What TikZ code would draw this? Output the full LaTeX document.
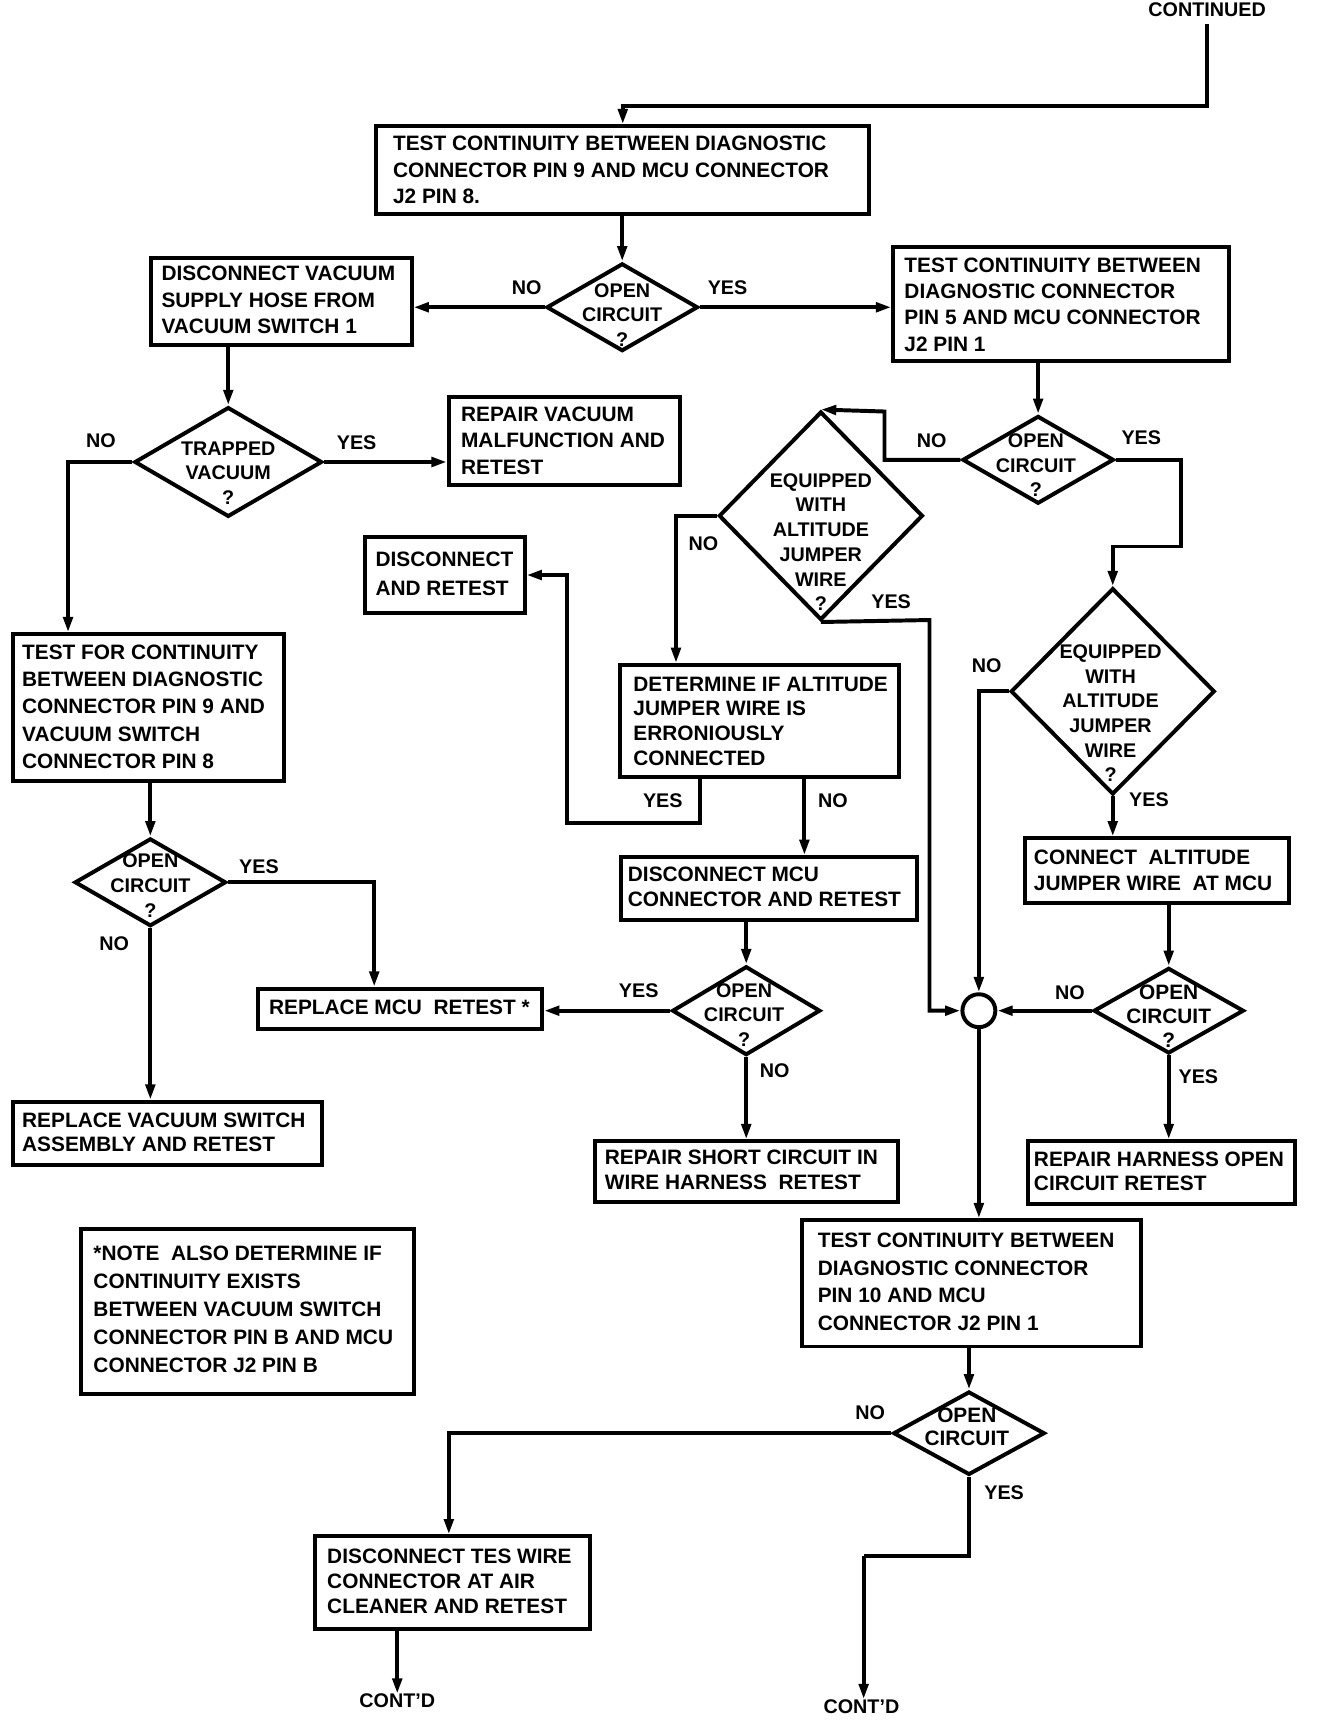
\documentclass[tikz,border=0pt]{standalone}
\usepackage{fontspec}
\setmainfont{Liberation Sans}
\usetikzlibrary{arrows.meta,shapes.geometric}
\begin{document}
\begin{tikzpicture}[x=1pt,y=-1pt]
\tikzset{
 ln/.style={line width=3.6pt, line join=miter},
 arr/.style={ln, -{Triangle[length=14pt,width=8.5pt]}},
 bx/.style={draw, line width=3.6pt, rectangle, inner sep=0pt},
 dm/.style={draw, line width=3.6pt, diamond, inner sep=0pt},
 tx/.style={align=left, inner sep=0pt, anchor=west, font=\fontsize{19}{24}\selectfont\bfseries},
 dtx/.style={align=center, inner sep=0pt, font=\fontsize{18}{22.5}\selectfont\bfseries},
 lb/.style={inner sep=0pt, font=\fontsize{18}{22}\selectfont\bfseries},
}
\useasboundingbox (0,0) rectangle (1210,1571);

% ---------- boxes ----------
\node[bx, minimum width=449, minimum height=80] (A) at (567.5,155) {};
\node[bx, minimum width=237, minimum height=79] (B) at (256.5,274.5) {};
\node[bx, minimum width=306, minimum height=104] (C) at (967,277) {};
\node[bx, minimum width=211, minimum height=80] (D) at (514.5,402) {};
\node[bx, minimum width=247, minimum height=134] (E) at (135.5,645) {};
\node[bx, minimum width=259, minimum height=37] (F) at (364.5,919.5) {};
\node[bx, minimum width=281, minimum height=58] (G) at (152.5,1033) {};
\node[bx, minimum width=254, minimum height=102] (H) at (692,657) {};
\node[bx, minimum width=145, minimum height=70] (I) at (405.5,524) {};
\node[bx, minimum width=270, minimum height=57] (J) at (701,809.5) {};
\node[bx, minimum width=276, minimum height=55] (K) at (680,1067.5) {};
\node[bx, minimum width=241, minimum height=59] (L) at (1054.5,793.5) {};
\node[bx, minimum width=243, minimum height=57] (M) at (1058.5,1068.5) {};
\node[bx, minimum width=309, minimum height=115] (N) at (885.5,1169.5) {};
\node[bx, minimum width=251, minimum height=84] (O) at (412.5,1442) {};
\node[bx, minimum width=303, minimum height=150] (P) at (225.5,1195) {};

% ---------- box texts ----------
\node[tx] (tA) at (358,155) {TEST CONTINUITY BETWEEN DIAGNOSTIC\\CONNECTOR PIN 9 AND MCU CONNECTOR\\J2 PIN 8.};
\node[tx] (tB) at (147,273.5) {DISCONNECT VACUUM\\SUPPLY HOSE FROM\\VACUUM SWITCH 1};
\node[tx] (tC) at (824,277.5) {TEST CONTINUITY BETWEEN\\DIAGNOSTIC CONNECTOR\\PIN 5 AND MCU CONNECTOR\\J2 PIN 1};
\node[tx] (tD) at (420,401.5) {REPAIR VACUUM\\MALFUNCTION AND\\RETEST};
\node[tx, font=\fontsize{19}{25}\selectfont\bfseries] (tE) at (20,644) {TEST FOR CONTINUITY\\BETWEEN DIAGNOSTIC\\CONNECTOR PIN 9 AND\\VACUUM SWITCH\\CONNECTOR PIN 8};
\node[tx] (tF) at (245,918) {REPLACE MCU\ \ RETEST *};
\node[tx, font=\fontsize{19}{22}\selectfont\bfseries] (tG) at (20,1032) {REPLACE VACUUM SWITCH\\ASSEMBLY AND RETEST};
\node[tx, font=\fontsize{19}{22.5}\selectfont\bfseries] (tH) at (577,657) {DETERMINE IF ALTITUDE\\JUMPER WIRE IS\\ERRONIOUSLY\\CONNECTED};
\node[tx, font=\fontsize{19}{27}\selectfont\bfseries] (tI) at (342,523) {DISCONNECT\\AND RETEST};
\node[tx, font=\fontsize{19}{23}\selectfont\bfseries] (tJ) at (572,808) {DISCONNECT MCU\\CONNECTOR AND RETEST};
\node[tx, font=\fontsize{19}{23}\selectfont\bfseries] (tK) at (551,1066) {REPAIR SHORT CIRCUIT IN\\WIRE HARNESS\ \ RETEST};
\node[tx, font=\fontsize{19}{23}\selectfont\bfseries] (tL) at (942,793) {CONNECT\ \ ALTITUDE\\JUMPER WIRE\ \ AT MCU};
\node[tx, font=\fontsize{19}{22}\selectfont\bfseries] (tM) at (942,1067) {REPAIR HARNESS OPEN\\CIRCUIT RETEST};
\node[tx, font=\fontsize{19}{25}\selectfont\bfseries] (tN) at (745,1168) {TEST CONTINUITY BETWEEN\\DIAGNOSTIC CONNECTOR\\PIN 10 AND MCU\\CONNECTOR J2 PIN 1};
\node[tx, font=\fontsize{19}{23}\selectfont\bfseries] (tO) at (298,1441) {DISCONNECT TES WIRE\\CONNECTOR AT AIR\\CLEANER AND RETEST};
\node[tx, font=\fontsize{19}{25.5}\selectfont\bfseries] (tP) at (85,1193) {*NOTE\ \ ALSO DETERMINE IF\\CONTINUITY EXISTS\\BETWEEN VACUUM SWITCH\\CONNECTOR PIN B AND MCU\\CONNECTOR J2 PIN B};

% ---------- diamonds ----------
\node[dm, minimum width=138, minimum height=80] (D1) at (567,280) {};
\node[dm, minimum width=171, minimum height=100] (D2) at (208,421) {};
\node[dm, minimum width=138, minimum height=80] (D3) at (137,804) {};
\node[dm, minimum width=138, minimum height=80] (D4) at (946,419) {};
\node[dm, minimum width=186, minimum height=190] (D5) at (748,470) {};
\node[dm, minimum width=135, minimum height=81] (D6) at (680,921) {};
\node[dm, minimum width=186, minimum height=188] (D7) at (1014,630) {};
\node[dm, minimum width=137, minimum height=78] (D8) at (1065,921) {};
\node[dm, minimum width=138, minimum height=76] (D9) at (883,1306) {};
\node[draw, circle, line width=3.6pt, minimum size=30, inner sep=0pt] (circ) at (892,921) {};

\node[dtx] (tD1) at (567,287) {OPEN\\CIRCUIT\\?};
\node[dtx] (tD2) at (208,431) {TRAPPED\\VACUUM\\?};
\node[dtx] (tD3) at (137,807) {OPEN\\CIRCUIT\\?};
\node[dtx] (tD4) at (944,424) {OPEN\\CIRCUIT\\?};
\node[dtx] (tD5) at (748,494) {EQUIPPED\\WITH\\ALTITUDE\\JUMPER\\WIRE\\?};
\node[dtx] (tD6) at (678,925) {OPEN\\CIRCUIT\\?};
\node[dtx] (tD7) at (1012,650) {EQUIPPED\\WITH\\ALTITUDE\\JUMPER\\WIRE\\?};
\node[dtx, font=\fontsize{19}{22}\selectfont\bfseries] (tD8) at (1065,926) {OPEN\\CIRCUIT\\?};
\node[dtx, font=\fontsize{19}{21}\selectfont\bfseries] (tD9) at (881,1300) {OPEN\\CIRCUIT};

% ---------- end labels ----------
\node[lb] (cont) at (1100,9) {CONTINUED};
\node[lb] (cd1) at (362,1550) {CONT'D};
\node[lb] (cd2) at (785,1555) {CONT'D};

% ---------- branch labels ----------
\node[lb] at (480,262) {NO};
\node[lb] at (663,262) {YES};
\node[lb] at (325,403) {YES};
\node[lb] at (92,402) {NO};
\node[lb] at (236,790) {YES};
\node[lb] at (104,860) {NO};
\node[lb] at (849,402) {NO};
\node[lb] at (1040,399) {YES};
\node[lb] at (641,495) {NO};
\node[lb] at (812,548) {YES};
\node[lb] at (604,730) {YES};
\node[lb] at (759,730) {NO};
\node[lb] at (582,903) {YES};
\node[lb] at (706,976) {NO};
\node[lb] at (899,607) {NO};
\node[lb] at (1047,729) {YES};
\node[lb] at (975,905) {NO};
\node[lb] at (1092,981) {YES};
\node[lb] at (793,1287) {NO};
\node[lb] at (915,1360) {YES};

% ---------- bend points ----------
\coordinate (t0) at (1100,22);
\coordinate (t1) at (1100,97);
\coordinate (b2) at (62,421);
\coordinate (b3) at (341,804);
\coordinate (b4) at (806,419);
\coordinate (b5) at (806,375);
\coordinate (b6) at (616,470);
\coordinate (b7) at (847,565);
\coordinate (b8) at (638,750);
\coordinate (b9) at (517,750);
\coordinate (b10) at (733,740);
\coordinate (b11) at (1076,419);
\coordinate (b12) at (1076,498);
\coordinate (b13) at (892,630);
\coordinate (b14) at (409,1306);
\coordinate (b15) at (883,1418);
\coordinate (b16) at (787,1418);

% ---------- connectors ----------
\draw[arr] (t0) -- (t1) -| (A.north);
\draw[arr] (A.south -| D1.north) -- (D1.north);
\draw[arr] (D1.west) -- (D1.west -| B.east);
\draw[arr] (D1.east) -- (D1.east -| C.west);
\draw[arr] (B.south -| D2.north) -- (D2.north);
\draw[arr] (D2.east) -- (D2.east -| D.west);
\draw[arr] (D2.west) -- (b2) -- (b2 |- E.north);
\draw[arr] (E.south -| D3.north) -- (D3.north);
\draw[arr] (D3.east) -- (b3) -- (b3 |- F.north);
\draw[arr] (D3.south) -- (D3.south |- G.north);
\draw[arr] (C.south -| D4.north) -- (D4.north);
\draw[arr] (D4.west) -- (b4) -- (b5) -- (D5.north);
\draw[arr] (D5.west) -- (b6) -- (b6 |- H.north);
\draw[arr] (D5.south) -- (b7) |- (circ.west);
\draw[arr] (H.south -| b8) -- (b8) -- (b9) |- (I.east);
\draw[arr] (H.south -| b10) -- (b10 |- J.north);
\draw[arr] (J.south -| D6.north) -- (D6.north);
\draw[arr] (D6.west) -- (D6.west -| F.east);
\draw[arr] (D6.south) -- (D6.south |- K.north);
\draw[arr] (D4.east) -- (b11) -- (b12) -| (D7.north);
\draw[arr] (D7.west) -- (b13) -- (circ.north);
\draw[arr] (D7.south) -- (D7.south |- L.north);
\draw[arr] (L.south -| D8.north) -- (D8.north);
\draw[arr] (D8.west) -- (circ.east);
\draw[arr] (D8.south) -- (D8.south |- M.north);
\draw[arr] (circ.south) -- (circ.south |- N.north);
\draw[arr] (N.south -| D9.north) -- (D9.north);
\draw[arr] (D9.west) -- (b14) -- (b14 |- O.north);
\draw[arr] (cd1.north |- O.south) -- (cd1.north);
\draw[ln] (D9.south) -- (b15) -- (b16);
\draw[arr] (b16) -- (b16 |- cd2.north);
\end{tikzpicture}
\end{document}
